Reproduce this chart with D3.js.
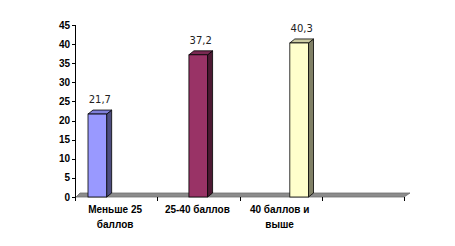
<!DOCTYPE html>
<html>
<head>
<meta charset="utf-8">
<script src="https://cdn.jsdelivr.net/npm/d3@7"></script>
<style>
  body { margin: 0; background: #fff; }
  svg { display: block; }
</style>
</head>
<body>
<svg id="chart" width="455" height="246"></svg>
<script>
// Chart data
const categories = ["Меньше 25 баллов", "25-40 баллов", "40 баллов и выше", ""];
const seriesNames = ["Меньше 25 баллов", "25-40 баллов", "40 баллов и выше"];
const values = [21.7, 37.2, 40.3]; // one non-empty value per series, in its own category
const yTicks = [0, 5, 10, 15, 20, 25, 30, 35, 40, 45];

// Excel-like colours: front, top, side
const colors = [
  { front: "#9999FF", top: "#7F7FD9", side: "#4D4D80" },
  { front: "#993366", top: "#7A2952", side: "#4D1A33" },
  { front: "#FFFFCC", top: "#CCCCA3", side: "#808066" }
];

const svg = d3.select("#chart");
const depthX = 5, depthY = 4;

const x = d3.scaleBand().domain(categories.map((d, i) => i)).range([75, 404]).padding(0);
const x1 = d3.scaleBand().domain(seriesNames.map((d, i) => i)).range([13, 69]).padding(0);
const y = d3.scaleLinear().domain([0, 45]).range([197, 25]);

// Floor
const x0 = x.range()[0], xEnd = x.range()[1], yBase = y(0);
svg.append("polygon")
  .attr("points", [[x0 + 1, yBase], [xEnd, yBase], [xEnd + depthX + 1, yBase - depthY], [x0 + depthX, yBase - depthY]].join(" "))
  .attr("fill", "#8C8C8C")
  .attr("stroke", "#6E6E6E")
  .attr("stroke-width", 0.8);

// Y axis
const yAxis = svg.append("g");
yAxis.append("line")
  .attr("x1", 75.5).attr("x2", 75.5)
  .attr("y1", y(45)).attr("y2", y(0) + 4)
  .attr("stroke", "#000");
yTicks.forEach((t) => {
  yAxis.append("line")
    .attr("x1", 72).attr("x2", 75.5)
    .attr("y1", Math.round(y(t)) + 0.5).attr("y2", Math.round(y(t)) + 0.5)
    .attr("stroke", "#000");
  yAxis.append("text")
    .attr("x", 70).attr("y", y(t) + 3.5)
    .attr("text-anchor", "end")
    .attr("font-family", "Liberation Sans, Arial, sans-serif")
    .attr("font-weight", "bold")
    .attr("font-size", 10)
    .text(t);
});

// X axis ticks and category labels
const xAxis = svg.append("g");
d3.range(categories.length + 1).forEach((i) => {
  const xx = i < categories.length ? x(i) : xEnd;
  xAxis.append("line")
    .attr("x1", Math.round(xx) + 0.5).attr("x2", Math.round(xx) + 0.5)
    .attr("y1", yBase).attr("y2", yBase + 4)
    .attr("stroke", "#000");
});

function wrapLabel(textSel, label, maxWidth) {
  const words = label.split(" ");
  let line = [];
  let tspan = textSel.append("tspan").attr("x", textSel.attr("x")).attr("dy", 0);
  words.forEach((w) => {
    line.push(w);
    tspan.text(line.join(" "));
    if (tspan.node().getComputedTextLength() > maxWidth && line.length > 1) {
      line.pop();
      tspan.text(line.join(" "));
      line = [w];
      tspan = textSel.append("tspan").attr("x", textSel.attr("x")).attr("dy", 15).text(w);
    }
  });
}

categories.forEach((c, i) => {
  const t = xAxis.append("text")
    .attr("x", x(i) + x.bandwidth() / 2 - 1)
    .attr("y", 213)
    .attr("text-anchor", "middle")
    .attr("font-family", "Liberation Sans, Arial, sans-serif")
    .attr("font-weight", "bold")
    .attr("font-size", 10);
  wrapLabel(t, c, 70);
});

// Bars (3D-ish columns)
const bars = svg.append("g");
values.forEach((v, i) => {
  const bx = x(i) + x1(i);
  const bw = x1.bandwidth();
  const top = y(v);
  const col = colors[i];
  // side
  bars.append("polygon")
    .attr("points", [[bx + bw, top], [bx + bw + depthX, top - depthY], [bx + bw + depthX, yBase - depthY], [bx + bw, yBase]].join(" "))
    .attr("fill", col.side).attr("stroke", "#000").attr("stroke-width", 0.8);
  // top
  bars.append("polygon")
    .attr("points", [[bx, top], [bx + depthX, top - depthY], [bx + bw + depthX, top - depthY], [bx + bw, top]].join(" "))
    .attr("fill", col.top).attr("stroke", "#000").attr("stroke-width", 0.8);
  // front
  bars.append("rect")
    .attr("x", bx).attr("y", top)
    .attr("width", bw).attr("height", yBase - top)
    .attr("fill", col.front).attr("stroke", "#000").attr("stroke-width", 0.8);
  // value label
  bars.append("text")
    .attr("x", bx + (bw + depthX) / 2)
    .attr("y", top - 11)
    .attr("text-anchor", "middle")
    .attr("font-family", "DejaVu Sans, Verdana, sans-serif")
    .attr("font-size", 10)
    .attr("fill", "#222")
    .text(String(v).replace(".", ","));
});
</script>
</body>
</html>
